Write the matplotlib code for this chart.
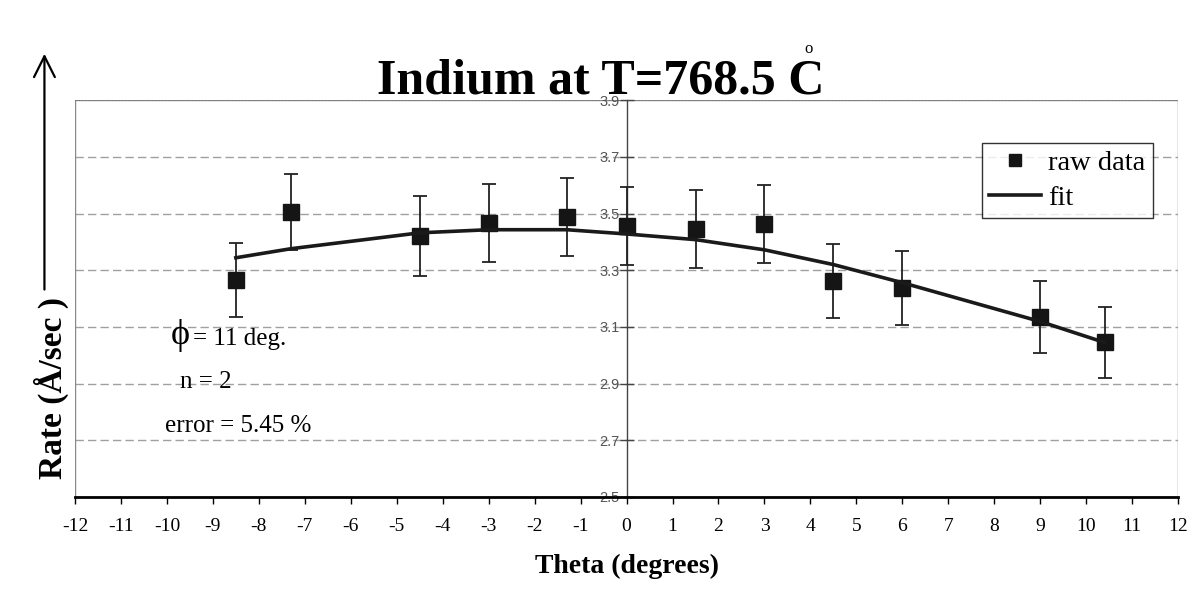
import numpy as np
import matplotlib

matplotlib.use('Agg')
import matplotlib.pyplot as plt
from matplotlib.patches import Rectangle, FancyArrowPatch

theta = [-8.5, -7.3, -4.5, -3.0, -1.3, 0.0, 1.5, 3.0, 4.5, 6.0, 9.0, 10.4]
rate = [3.266, 3.506, 3.421, 3.467, 3.488, 3.456, 3.446, 3.463, 3.263, 3.238, 3.136, 3.045]
rate_err = [0.13, 0.134, 0.14, 0.139, 0.139, 0.137, 0.137, 0.139, 0.13, 0.13, 0.127, 0.125]

# Аппроксимация (n = 2), значения в тех же точках
fit = [3.344, 3.376, 3.432, 3.443, 3.443, 3.428, 3.408, 3.372, 3.32, 3.256, 3.119, 3.045]

x_ticks = list(range(-12, 13))
y_ticks = [2.5, 2.7, 2.9, 3.1, 3.3, 3.5, 3.7, 3.9]

serif = ['Liberation Serif', 'DejaVu Serif']
narrow = ['Liberation Sans Narrow', 'Liberation Sans', 'DejaVu Sans']

fig = plt.figure(figsize=(12.01, 5.93), dpi=100)
ax = fig.add_axes([0.0624, 0.162, 0.9186, 0.669])

ax.set_xlim(-12, 12)
ax.set_ylim(2.5, 3.9)

# сетка
for yv in y_ticks[1:-1]:
    ax.axhline(yv, color='#a0a0a0', lw=1.0, ls=(0, (6, 3)), zorder=0)

# рамка области построения
ax.add_patch(Rectangle((0, 0), 1, 1, transform=ax.transAxes, fill=False,
                       ec='#888888', lw=1.0, zorder=0))
ax.plot([0, 1], [1, 1], transform=ax.transAxes, color='#777777', lw=1.2,
        ls=(0, (1, 1)), zorder=0)

for s in ['top', 'right']:
    ax.spines[s].set_visible(False)
ax.spines['left'].set_position(('data', 0))
ax.spines['left'].set_color('#444444')
ax.spines['left'].set_linewidth(1.0)
ax.spines['bottom'].set_color('black')
ax.spines['bottom'].set_linewidth(2.0)

ax.set_xticks(x_ticks)
ax.set_xticklabels([str(v) for v in x_ticks], family=serif, fontsize=14)
ax.set_yticks(y_ticks)
ax.set_yticklabels(['%.1f' % v for v in y_ticks], family=narrow, fontsize=10.5,
                   color='#555555')
ax.tick_params(axis='x', direction='out', length=5, width=1, pad=10)
ax.tick_params(axis='y', direction='inout', length=10, width=1, pad=0,
               color='#444444')

# данные
ax.errorbar(theta, rate, yerr=rate_err, fmt='none', ecolor='#222222',
            elinewidth=1.3, capsize=5, capthick=1.3, zorder=3)
ax.plot(theta, rate, 's', color='#151515', ms=11, zorder=4, label='raw data')
ax.plot(theta, fit, '-', color='#1a1a1a', lw=2.6, zorder=5, label='fit')

leg = ax.legend(loc='upper right', bbox_to_anchor=(0.977, 0.892),
                prop={'family': serif, 'size': 20.5}, frameon=True,
                fancybox=False, edgecolor='black', handlelength=1.85,
                handletextpad=0.25, borderpad=0.25, labelspacing=0.3,
                markerscale=0.8, borderaxespad=0)
leg.get_frame().set_linewidth(1.0)

# подписи
ax.text(0.095, 0.407, 'ϕ', transform=ax.transAxes, family=serif,
        fontsize=26, ha='center', va='center')
ax.text(0.107, 0.383, '= 11 deg.', transform=ax.transAxes, family=serif,
        fontsize=18, va='baseline')
ax.text(0.095, 0.275, 'n = 2', transform=ax.transAxes, family=serif,
        fontsize=18, va='baseline')
ax.text(0.082, 0.164, 'error = 5.45 %', transform=ax.transAxes, family=serif,
        fontsize=18, va='baseline')

ax.set_xlabel('Theta (degrees)', family=serif, fontsize=20, fontweight='bold',
              labelpad=14)

fig.text(0.043, 0.345, 'Rate (Å/sec )', family=serif, fontsize=24,
         fontweight='bold', rotation=90, ha='center', va='center')
fig.add_artist(FancyArrowPatch(
    (0.037, 0.507), (0.037, 0.914), transform=fig.transFigure,
    arrowstyle='->,head_length=10,head_width=5', color='black', lw=1.6,
    mutation_scale=1.5))

fig.text(0.5, 0.843, 'Indium at T=768.5 C', family=serif, fontsize=36,
         fontweight='bold', ha='center', va='baseline')
fig.text(0.673, 0.918, 'o', family=serif, fontsize=12, ha='center',
         va='center')

fig.savefig('out.png', dpi=100)
